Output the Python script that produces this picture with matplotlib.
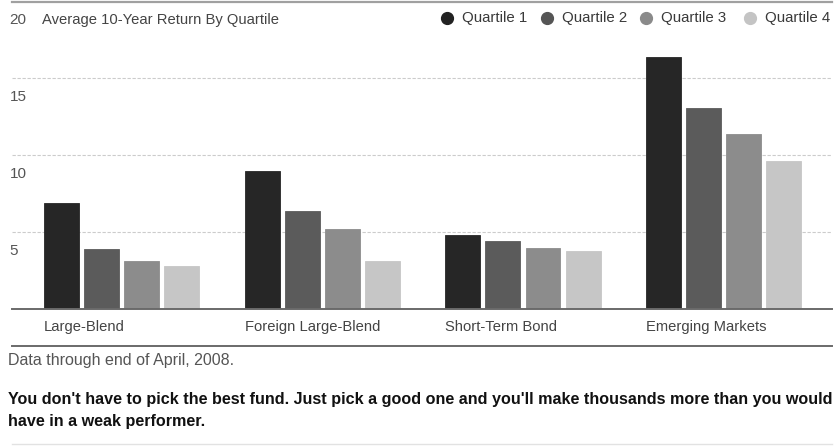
import matplotlib
matplotlib.use("Agg")
import matplotlib.pyplot as plt
from matplotlib.lines import Line2D
from matplotlib.transforms import blended_transform_factory

# --- data -------------------------------------------------------------
categories = ["Large-Blend", "Foreign Large-Blend", "Short-Term Bond", "Emerging Markets"]
quartiles = ["Quartile 1", "Quartile 2", "Quartile 3", "Quartile 4"]
q1 = [6.9, 9.0, 4.8, 16.4]
q2 = [3.9, 6.4, 4.4, 13.1]
q3 = [3.1, 5.2, 4.0, 11.4]
q4 = [2.8, 3.1, 3.8, 9.6]
yticks = [5, 10, 15, 20]

title = "Average 10-Year Return By Quartile"
note = "Data through end of April, 2008."
caption = ("You don't have to pick the best fund. Just pick a good one and you'll make thousands more than you would\n"
           "have in a weak performer.")

colors = ["#262626", "#5b5b5b", "#8c8c8c", "#c6c6c6"]
dot_colors = ["#222222", "#555555", "#8a8a8a", "#c4c4c4"]
FONT = ["Liberation Sans", "DejaVu Sans"]
W, H = 835, 446

fig = plt.figure(figsize=(W / 100, H / 100), dpi=100)
fig.patch.set_facecolor("white")


def fx(x):
    return x / W


def fy(y):
    return 1 - y / H


# axes: x from 12 to 832 px, y=0 at 309 px, y=20 at 1.5 px
ax = fig.add_axes([fx(12), fy(309), (832 - 12) / W, (309 - 1.5) / H])
ax.set_xlim(-0.546, 3.54)
ax.set_ylim(0, 20)
ax.axis("off")

width = 0.174
step = 0.2
for j, vals in enumerate([q1, q2, q3, q4]):
    xs = [i + (j - 1.5) * step for i in range(len(categories))]
    ax.bar(xs, vals, width=width, color=colors[j], edgecolor=colors[j], linewidth=0.6, zorder=3)

# grid lines
for v in yticks[:-1]:
    ax.axhline(v, color="#cccccc", lw=0.8, ls=(0, (3, 1.5)), zorder=1)
ax.axhline(20, color="#a0a0a0", lw=1.6, zorder=2, clip_on=False)
ax.axhline(0, color="#6a6a6a", lw=1.4, zorder=4, clip_on=False)

# y labels sit below their grid lines
tr = blended_transform_factory(ax.transAxes, ax.transData)
for v in yticks:
    ax.text(-0.003, v - 1.2, str(v), transform=tr, ha="left", va="center",
            fontsize=11, color="#555555", family=FONT)

ax.text(0.037, 20 - 1.2, title, transform=tr, ha="left", va="center",
        fontsize=10.6, color="#444444", family=FONT)

# category labels, left aligned with the first bar of each group
for i, cat in enumerate(categories):
    ax.text(i - 1.5 * step - width / 2, -1.2, cat, ha="left", va="center",
            fontsize=10.6, color="#444444", family=FONT)

# legend
dot_x = [447, 547, 646, 750]
for k, q in enumerate(quartiles):
    fig.add_artist(Line2D([fx(dot_x[k])], [fy(18)], marker="o", markersize=8.5,
                          color=dot_colors[k], transform=fig.transFigure))
    fig.text(fx(dot_x[k] + 15), fy(18), q, ha="left", va="center",
             fontsize=10.8, color="#3a3a3a", family=FONT)

# lower rules and text
fig.add_artist(Line2D([fx(12), fx(832)], [fy(345.5), fy(345.5)], color="#6a6a6a", lw=1.4,
                      transform=fig.transFigure))
fig.add_artist(Line2D([fx(12), fx(832)], [fy(444), fy(444)], color="#e2e2e2", lw=1.0,
                      transform=fig.transFigure))
fig.text(fx(8), fy(361), note, ha="left", va="center", fontsize=11.5, color="#555555", family=FONT)
fig.text(fx(8), fy(410.5), caption, ha="left", va="center", fontsize=11.6, color="#111111",
         fontweight="bold", family=FONT, linespacing=1.65)

fig.savefig("out.png", dpi=100)
